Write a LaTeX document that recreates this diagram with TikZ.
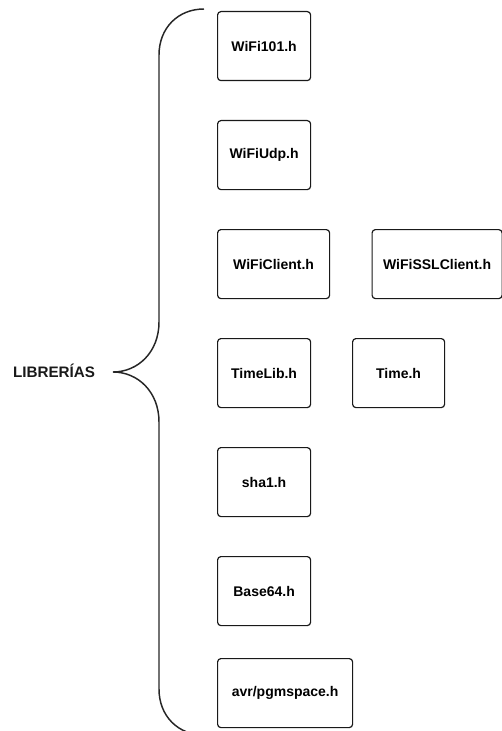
\documentclass[tikz,border=0pt]{standalone}
\usepackage{fontspec}
\setmainfont{Liberation Sans}
\begin{document}
\begin{tikzpicture}[x=0.75pt,y=-0.75pt,
  libbox/.style={draw=black!90, line width=0.9pt, rounded corners=2.5pt,
    anchor=north west, minimum height=51.75pt, inner sep=0pt,
    font=\fontsize{10.5}{12}\selectfont\bfseries},
  bracepath/.style={draw=black!85, line width=1.1pt}]
\useasboundingbox (0,0) rectangle (502,731);

% brace grouping the libraries
\draw[bracepath] (204,9) .. controls (178,9) and (159,28) .. (159,55)
  -- (159,322) .. controls (159,352) and (138,372) .. (113,372)
  .. controls (138,372) and (159,392) .. (159,422)
  -- (159,689) .. controls (159,716) and (178,735) .. (204,735);

\node[font=\fontsize{11.4}{13}\selectfont\bfseries, text=black!90] (label) at (54,371) {LIBRERÍAS};

% library boxes
\node[libbox, minimum width=69.75pt] (wifi101) at (217,11) {WiFi101.h};
\node[libbox, minimum width=69.75pt] (wifiudp) at (217,120) {WiFiUdp.h};
\node[libbox, minimum width=84pt] (wificlient) at (217,229) {WiFiClient.h};
\node[libbox, minimum width=97.5pt] (wifissl) at (371.5,229) {WiFiSSLClient.h};
\node[libbox, minimum width=69.75pt] (timelib) at (217,338) {TimeLib.h};
\node[libbox, minimum width=69pt] (timeh) at (352,338) {Time.h};
\node[libbox, minimum width=69.75pt] (sha) at (217,447) {sha1.h};
\node[libbox, minimum width=69.75pt] (base) at (217,556) {Base64.h};
\node[libbox, minimum width=101.25pt] (pgm) at (217,658) {avr/pgmspace.h};
\end{tikzpicture}
\end{document}
